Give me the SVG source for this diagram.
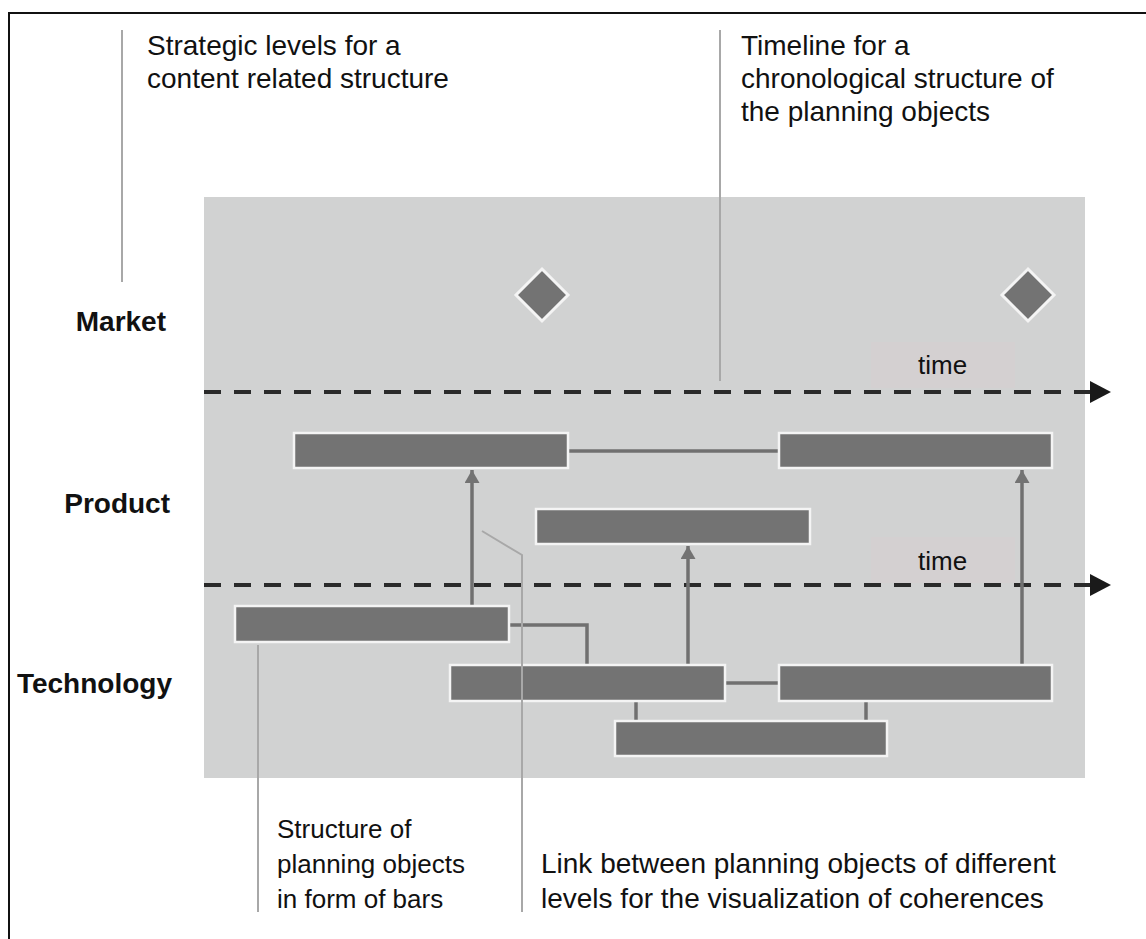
<svg xmlns="http://www.w3.org/2000/svg" width="1146" height="939" viewBox="0 0 1146 939">
<defs>
<style>
.txt{font-family:"Liberation Sans",Arial,sans-serif;font-size:28px;fill:#111}
.sm{font-size:26px}
.lvl{font-family:"Liberation Sans",Arial,sans-serif;font-size:28px;font-weight:bold;fill:#111;text-anchor:end}
.bar{fill:#737373;stroke:#f4f4f4;stroke-width:2.5}
.dia{fill:#737373;stroke:#f4f4f4;stroke-width:3}
.con{stroke:#707070;stroke-width:3.5;fill:none}
.call{stroke:#a8a8a8;stroke-width:2;fill:none}
.dash{stroke:#2a2a2a;stroke-width:4;stroke-dasharray:17 13;fill:none}
.tbox{fill:#d4d0d1}
</style>
<marker id="up" viewBox="0 0 13 15" markerWidth="13" markerHeight="15" refX="13" refY="7.5" orient="auto" markerUnits="userSpaceOnUse">
<path d="M0,0 L13,7.5 L0,15 Z" fill="#737373"/>
</marker>
</defs>
<rect width="1146" height="939" fill="#fff"/>
<path d="M9,939 V13 H1146" fill="none" stroke="#111" stroke-width="2"/>
<rect id="panel" x="204" y="197" width="881" height="581" fill="#d1d2d2"/>
<g id="timeboxes">
<rect class="tbox" x="871" y="342" width="144" height="46"/>
<rect class="tbox" x="871" y="537" width="144" height="46"/>
</g>
<g id="timelines">
<g id="timeline1">
<line class="dash" x1="204" y1="392" x2="1092" y2="392"/>
<polygon points="1090,381 1111,392 1090,403" fill="#1a1a1a"/>
<text class="txt sm" x="918" y="374">time</text>
</g>
<g id="timeline2">
<line class="dash" x1="204" y1="585" x2="1092" y2="585"/>
<polygon points="1090,574 1111,585 1090,596" fill="#1a1a1a"/>
<text class="txt sm" x="918" y="570">time</text>
</g>
</g>
<g id="connectors">
<line class="con" x1="568" y1="451" x2="778" y2="451"/>
<polyline class="con" points="510,625 587,625 587,664"/>
<line class="con" x1="726" y1="683" x2="778" y2="683"/>
<line class="con" x1="636" y1="702" x2="636" y2="720"/>
<line class="con" x1="866" y1="702" x2="866" y2="720"/>
<line class="con" x1="472" y1="605" x2="472" y2="470" marker-end="url(#up)"/>
<line class="con" x1="688" y1="664" x2="688" y2="546" marker-end="url(#up)"/>
<line class="con" x1="1022" y1="664" x2="1022" y2="470" marker-end="url(#up)"/>
</g>
<g id="milestone1"><polygon class="dia" points="542,269 568,295 542,321 516,295"/></g>
<g id="milestone2"><polygon class="dia" points="1028,269 1054,295 1028,321 1002,295"/></g>
<g id="bar-product-1"><rect class="bar" x="294" y="433" width="274" height="35"/></g>
<g id="bar-product-2"><rect class="bar" x="779" y="433" width="273" height="35"/></g>
<g id="bar-product-3"><rect class="bar" x="536" y="509" width="274" height="35"/></g>
<g id="bar-tech-1"><rect class="bar" x="235" y="606" width="274" height="36"/></g>
<g id="bar-tech-2"><rect class="bar" x="450" y="665" width="275" height="36"/></g>
<g id="bar-tech-3"><rect class="bar" x="779" y="665" width="273" height="36"/></g>
<g id="bar-tech-4"><rect class="bar" x="615" y="721" width="272" height="35"/></g>
<g id="levels">
<text class="lvl" x="166" y="331">Market</text>
<text class="lvl" x="170" y="513">Product</text>
<text class="lvl" x="172" y="693">Technology</text>
</g>
<g id="callouts">
<line class="call" x1="122" y1="30" x2="122" y2="282"/>
<line class="call" x1="720" y1="30" x2="720" y2="381"/>
<line class="call" x1="258" y1="645" x2="258" y2="912"/>
<polyline class="call" points="482,531 522,555 522,912"/>
</g>
<g id="annotations">
<text class="txt sm" x="277" y="838">Structure of</text>
<text class="txt sm" x="277" y="873">planning objects</text>
<text class="txt sm" x="277" y="908">in form of bars</text>
<text class="txt" x="147" y="55">Strategic levels for a</text>
<text class="txt" x="147" y="88">content related structure</text>
<text class="txt" x="741" y="55">Timeline for a</text>
<text class="txt" x="741" y="88">chronological structure of</text>
<text class="txt" x="741" y="121">the planning objects</text>
<text class="txt" x="541" y="873">Link between planning objects of different</text>
<text class="txt" x="541" y="908">levels for the visualization of coherences</text>
</g>
</svg>
